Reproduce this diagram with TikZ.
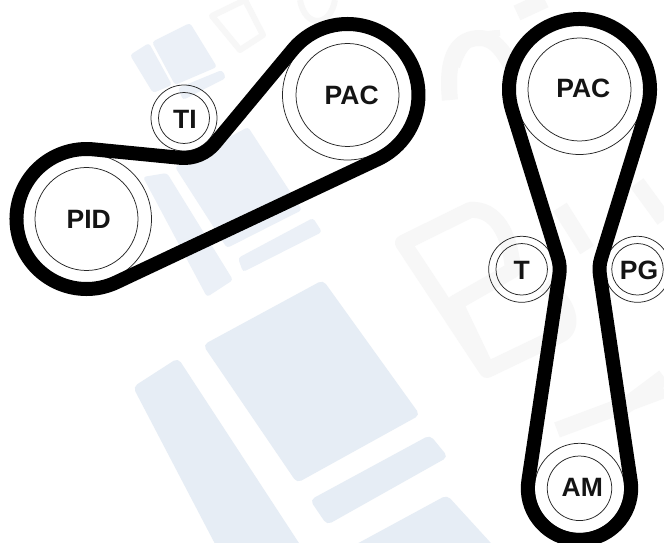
\documentclass[tikz,border=0pt]{standalone}
\usepackage{fontspec}
\setmainfont{Liberation Sans}
\usetikzlibrary{calc}
\definecolor{markblue}{HTML}{E6EDF5}
\definecolor{markpale}{HTML}{EBF0F7}
\definecolor{markgrey}{HTML}{F7F7F7}
\tikzset{
  mark shape/.style={fill=markblue,draw=none,rounded corners=5pt},
  mark pale/.style={fill=markpale,draw=none,rounded corners=3pt},
  mark stroke/.style={draw=markgrey,line width=16pt,line join=round,line cap=butt},
  mark thin/.style={draw=markgrey,line width=6pt,line join=round},
  pulley/.style={circle,draw=black!85,line width=0.75pt,inner sep=0pt,fill=none},
  belt/.style={draw=black,line width=14pt,line join=round},
  tag/.style={font=\fontsize{26.5}{27}\selectfont\bfseries,text=black!92,inner sep=0pt}
}
\begin{document}
\begin{tikzpicture}[x=1pt,y=1pt]
\useasboundingbox (0,0) rectangle (664,543);
\clip (0,0) rectangle (664,543);
\fill[white] (0,0) rectangle (664,543);
% watermark: faint letters
\draw[mark stroke] (487,173) -- (403,300) -- (470,333) .. controls (495,335) and (510,310) .. (513,273) -- (455,240) -- (487,173) -- (560,208) .. controls (575,215) and (570,240) .. (545,258);
\draw[mark stroke] (560,336) -- (587,293);
\draw[mark stroke] (637,360) -- (664,323);
\draw[mark stroke] (620,133) -- (664,166);
\draw[mark stroke] (557,113) -- (664,153);
\draw[mark stroke] (450,443) .. controls (445,490) and (460,505) .. (480,505) .. controls (495,505) and (505,490) .. (515,470);
\draw[mark stroke] (517,530) -- (545,543);
\draw[mark thin] (212,527) -- (245,543) -- (263,508) -- (240,493) -- cycle;
\draw[mark thin] (300,543) .. controls (305,515) and (330,515) .. (335,543);
\draw[mark thin] (457,476) .. controls (465,505) and (485,510) .. (500,510);
% watermark: logo
\fill[mark shape] (203,198) -- (323,263) -- (420,128) -- (297,60) -- cycle;
\fill[mark shape] (133,156) -- (178,185) -- (312,-20) -- (225,-20) -- cycle;
\fill[mark shape] (310,43) -- (430,108) -- (448,86) -- (327,18) -- cycle;
\fill[mark shape] (340,-10) -- (447,48) -- (500,-10) -- cycle;
\fill[mark pale] (175,376) -- (248,416) -- (302,333) -- (227,295) -- cycle;
\fill[mark pale] (143,366) -- (167,370) -- (233,263) -- (207,246) -- cycle;
\fill[mark pale] (238,285) -- (313,325) -- (322,311) -- (243,271) -- cycle;
\fill[mark pale] (152,501) -- (190,520) -- (217,476) -- (175,458) -- cycle;
\fill[mark pale] (130,488) -- (149,500) -- (172,458) -- (153,450) -- cycle;
\fill[mark pale] (178,455) -- (222,473) -- (226,465) -- (183,443) -- cycle;
% left drive pulleys
\node[pulley,minimum size=130pt] (pidouter) at (86.5,324) {};
\node[pulley,minimum size=103pt] (pid) at (86.5,324) {};
\node[pulley,minimum size=66pt] (tiouter) at (184,425) {};
\node[pulley,minimum size=51pt] (ti) at (184,425) {};
\node[pulley,minimum size=130pt] (pacouter) at (347.5,448) {};
\node[pulley,minimum size=103pt] (pac) at (347.5,448) {};
% right drive pulleys
\node[pulley,minimum size=130pt] (pactwoouter) at (579.5,453.5) {};
\node[pulley,minimum size=103pt] (pactwo) at (579.5,453.5) {};
\node[pulley,minimum size=66pt] (touter) at (521.7,273.7) {};
\node[pulley,minimum size=51.5pt] (t) at (521.7,273.7) {};
\node[pulley,minimum size=66pt] (pgouter) at (637.5,273.7) {};
\node[pulley,minimum size=51.5pt] (pg) at (637.5,273.7) {};
\node[pulley,minimum size=90pt] (amouter) at (579.5,54.7) {};
\node[pulley,minimum size=64.5pt] (am) at (579.5,54.7) {};
% belts
\draw[belt] ($(pid.center)+(84.4:70pt)$)
  -- ($(ti.center)+(264.4:40pt)$) arc[start angle=264.4,end angle=320.2,radius=40pt]
  -- ($(pac.center)+(140.2:71pt)$) arc[start angle=140.2,end angle=-64.6,radius=71pt]
  -- ($(pid.center)+(295.4:70pt)$) arc[start angle=295.4,end angle=84.4,radius=70pt]
  -- cycle;
\draw[belt] ($(pactwo.center)+(197.25:70.5pt)$)
  -- ($(t.center)+(17.25:38pt)$) arc[start angle=17.25,end angle=-8.5,radius=38pt]
  -- ($(am.center)+(171.5:51.7pt)$) arc[start angle=171.5,end angle=368.5,radius=51.7pt]
  -- ($(pg.center)+(188.5:38pt)$) arc[start angle=188.5,end angle=162.75,radius=38pt]
  -- ($(pactwo.center)+(-17.25:70.5pt)$) arc[start angle=-17.25,end angle=197.25,radius=70.5pt]
  -- cycle;
% labels
\node[tag] (lpid) at (88.7,323.5) {PID};
\node[tag] (lti) at (185,424) {TI};
\node[tag] (lpac) at (351.7,447.5) {PAC};
\node[tag] (lpactwo) at (583.3,455) {PAC};
\node[tag] (lt) at (521.7,273) {T};
\node[tag] (lpg) at (639,273) {PG};
\node[tag] (lam) at (582.3,55.7) {AM};
\end{tikzpicture}
\end{document}
